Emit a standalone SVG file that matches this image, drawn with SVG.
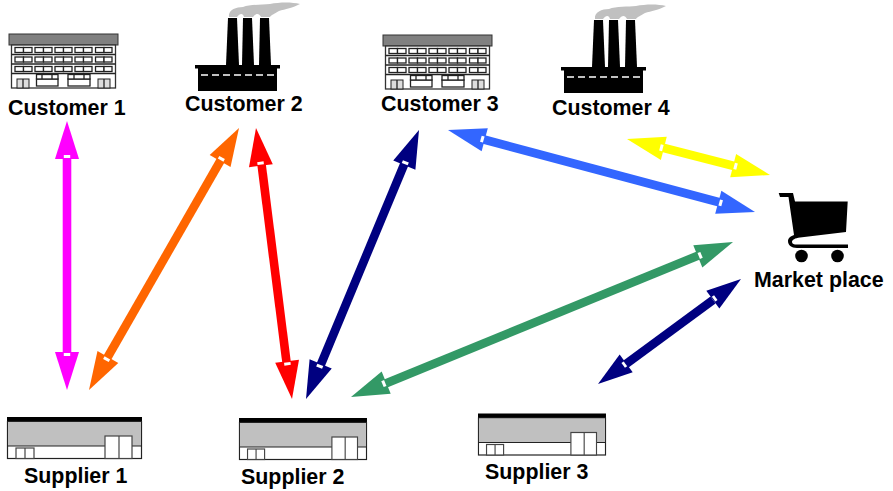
<svg xmlns="http://www.w3.org/2000/svg" width="893" height="491" viewBox="0 0 893 491">
<style>
text{font-family:"Liberation Sans",Arial,sans-serif;font-weight:bold;font-size:21.4px;fill:#000}
.shaft{stroke-width:8.600;fill:none}
.w{fill:#fff;stroke:#222;stroke-width:1.300}
.d{stroke:#222;stroke-width:1.300}
</style>
<defs>
<g id="head"><polygon points="0,0 -38,-12 -38,12"/><rect x="-37" y="-3.200" width="3" height="6.400" fill="#fff"/></g>
<g id="office">
<rect x="9" y="34" width="109" height="11" fill="#808080" stroke="#333" stroke-width="1"/>
<rect x="11.500" y="45" width="104" height="43" fill="#fff" stroke="#333" stroke-width="1.300"/>
<g id="winrow">
<rect class="w" x="15" y="47.500" width="8.500" height="5"/><rect class="w" x="23.500" y="47.500" width="8.500" height="5"/>
<rect class="w" x="35" y="47.500" width="8.500" height="5"/><rect class="w" x="43.500" y="47.500" width="8.500" height="5"/>
<rect class="w" x="55" y="47.500" width="8.500" height="5"/><rect class="w" x="63.500" y="47.500" width="8.500" height="5"/>
<rect class="w" x="75" y="47.500" width="8.500" height="5"/><rect class="w" x="83.500" y="47.500" width="8.500" height="5"/>
<rect class="w" x="95.500" y="47.500" width="8.500" height="5"/><rect class="w" x="104" y="47.500" width="8" height="5"/>
</g>
<use href="#winrow" y="9.500"/><use href="#winrow" y="19"/>
<line class="d" x1="11.500" y1="54.500" x2="115.500" y2="54.500"/><line class="d" x1="11.500" y1="64" x2="115.500" y2="64"/><line class="d" x1="11.500" y1="73.500" x2="115.500" y2="73.500"/>
<rect x="17" y="79" width="12" height="9" fill="#ddd" stroke="#222"/><line class="d" x1="23" y1="79" x2="23" y2="88"/>
<rect x="98" y="79" width="12" height="9" fill="#ddd" stroke="#222"/><line class="d" x1="104" y1="79" x2="104" y2="88"/>
<rect class="w" x="36.500" y="79" width="21.500" height="7"/><rect class="w" x="68" y="79" width="22" height="7"/>
<rect class="w" x="36.500" y="74.500" width="21.500" height="4.500"/><rect class="w" x="68" y="74.500" width="22" height="4.500"/>
<line class="d" x1="42" y1="74.500" x2="42" y2="79"/><line class="d" x1="52" y1="74.500" x2="52" y2="79"/>
<line class="d" x1="74" y1="74.500" x2="74" y2="79"/><line class="d" x1="84" y1="74.500" x2="84" y2="79"/>
</g>
<g id="factory">
<path d="M229,17 C228,10 236,7 243,7 C250,4 262,5 270,4 C280,2 292,2 300,4 C293,8 285,9 279,11 C274,14 271,15 270,17 L261,17 C259,13 256,13 253,17 L244,17 C243,13 240,13 237,17 Z" fill="#c0c0c0"/>
<polygon points="228,18 237,18 239,65 226,65"/>
<polygon points="243,18 252,18 254,65 242,65"/>
<polygon points="260,18 269,18 271,65 259,65"/>
<rect x="195" y="65" width="85" height="3.500"/>
<rect x="198" y="68" width="79" height="23"/>
<line x1="201" y1="75" x2="274" y2="75" stroke="#fff" stroke-width="1.500" stroke-dasharray="7,4"/>
</g>
<g id="warehouse">
<rect x="0" y="0" width="135" height="4.500"/>
<rect x="0.500" y="4.500" width="134" height="37" fill="#fff" stroke="#222" stroke-width="1.200"/>
<rect x="1" y="5" width="133" height="24" fill="#c0c0c0"/>
<line x1="0.500" y1="29" x2="134.500" y2="29" stroke="#222" stroke-width="1.200"/>
<rect x="98" y="19" width="27" height="22.500" fill="#fff" stroke="#444" stroke-width="1.200"/><line x1="112" y1="19" x2="112" y2="41.500" stroke="#444" stroke-width="1.200"/>
<rect x="9" y="31" width="18" height="10.500" fill="#fff" stroke="#444" stroke-width="1.200"/><line x1="18" y1="31" x2="18" y2="41.500" stroke="#444" stroke-width="1.200"/>
</g>
</defs>
<g id="connectors">
<g id="c-magenta" fill="#ff00ff" stroke="#ff00ff"><line class="shaft" x1="67" y1="155" x2="67" y2="356"/><g stroke="none"><use href="#head" transform="translate(67,390) rotate(90)"/><use href="#head" transform="translate(67,121) rotate(-90)"/></g></g>
<g id="c-orange" fill="#ff6600" stroke="#ff6600"><line class="shaft" x1="222" y1="158" x2="106" y2="360"/><g stroke="none"><use href="#head" transform="translate(89,390) rotate(119.800)"/><use href="#head" transform="translate(239,128) rotate(-60.200)"/></g></g>
<g id="c-red" fill="#ff0000" stroke="#ff0000"><line class="shaft" x1="261" y1="160" x2="287" y2="366"/><g stroke="none"><use href="#head" transform="translate(292,399) rotate(82.600)"/><use href="#head" transform="translate(256,128) rotate(-97.400)"/></g></g>
<g id="c-navy" fill="#000080" stroke="#000080"><line class="shaft" x1="406" y1="160" x2="319" y2="369"/><g stroke="none"><use href="#head" transform="translate(306,399) rotate(112.700)"/><use href="#head" transform="translate(419,130) rotate(-67.300)"/></g></g>
<g id="c-green" fill="#339966" stroke="#339966"><line class="shaft" x1="702" y1="254" x2="382" y2="385"/><g stroke="none"><use href="#head" transform="translate(351,397) rotate(157.800)"/><use href="#head" transform="translate(733,242) rotate(-22.200)"/></g></g>
<g id="c-blue" fill="#3366ff" stroke="#3366ff"><line class="shaft" x1="482" y1="139" x2="722" y2="203"/><g stroke="none"><use href="#head" transform="translate(755,212) rotate(14.900)"/><use href="#head" transform="translate(448,130) rotate(-165.100)"/></g></g>
<g id="c-yellow" fill="#ffff00" stroke="#ffff00"><line class="shaft" x1="660" y1="147" x2="738" y2="167"/><g stroke="none"><use href="#head" transform="translate(770,175) rotate(14.200)"/><use href="#head" transform="translate(627,139) rotate(-165.800)"/></g></g>
<g id="c-navy2" fill="#000080" stroke="#000080"><line class="shaft" x1="713" y1="300" x2="626" y2="364"/><g stroke="none"><use href="#head" transform="translate(741,279) rotate(-36.300) scale(.92)"/><use href="#head" transform="translate(598,384) rotate(143.700) scale(.92)"/></g></g>
</g>
<g id="customer-1"><use href="#office"/><text x="8" y="115">Customer 1</text></g>
<g id="customer-2"><use href="#factory"/><text x="185" y="111">Customer 2</text></g>
<g id="customer-3"><use href="#office" transform="translate(374,1)"/><text x="381" y="111">Customer 3</text></g>
<g id="customer-4"><use href="#factory" transform="translate(366,2)"/><text x="552" y="115">Customer 4</text></g>
<g id="supplier-1"><use href="#warehouse" transform="translate(7,417)"/><text x="24" y="483">Supplier 1</text></g>
<g id="supplier-2"><use href="#warehouse" transform="translate(239,418) scale(.948,1)"/><text x="241" y="484">Supplier 2</text></g>
<g id="supplier-3"><use href="#warehouse" transform="translate(478,413.500) scale(.948,1)"/><text x="485" y="479">Supplier 3</text></g>
<g id="market-place">
<path d="M778.700,193 H793 L795,201.500 H847.700 L846,232 L800,237.500 C795,238 792,240 792,242 C792,244 794,244.500 797,244.500 H848 V248 H797 C791,248 788,245 788,241 C788,238 791,236 794,235 L788.500,197 H780 Z"/>
<circle cx="801.500" cy="256" r="6.300"/><circle cx="837.500" cy="256" r="6.300"/>
<text x="754" y="287">Market place</text>
</g>
</svg>
